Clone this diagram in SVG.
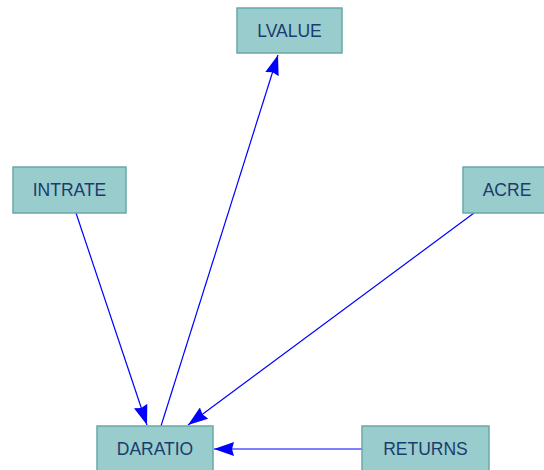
<svg xmlns="http://www.w3.org/2000/svg" width="544" height="470" viewBox="0 0 544 470">
<style>
.n rect{fill:#99cccc;stroke:#6aa8a8;stroke-width:1.5}
.n text{font-family:"Liberation Sans",Arial,sans-serif;font-size:17.5px;fill:#1a3c6e;text-anchor:middle;dominant-baseline:central}
.e line{stroke:#0000ff;stroke-width:1.2;marker-end:url(#a)}
</style>
<defs>
<marker id="a" viewBox="0 0 20 14" refX="20" refY="7" markerWidth="20" markerHeight="14" markerUnits="userSpaceOnUse" orient="auto">
<path d="M0,0 L20,7 L0,14 L2,7 Z" fill="#0000ff"/>
</marker>
</defs>
<rect width="544" height="470" fill="#ffffff"/>
<g class="e">
<line x1="76" y1="213" x2="147" y2="425"/>
<line x1="161" y1="426" x2="278" y2="55"/>
<line x1="474" y1="213" x2="188" y2="425"/>
<line x1="362" y1="449" x2="214" y2="449"/>
</g>
<g id="LVALUE" class="n"><rect x="237" y="8" width="105" height="45"/><text x="289.5" y="31">LVALUE</text></g>
<g id="INTRATE" class="n"><rect x="13" y="167" width="113" height="46"/><text x="69.5" y="190">INTRATE</text></g>
<g id="ACRE" class="n"><rect x="463" y="167" width="90" height="46"/><text x="507" y="190">ACRE</text></g>
<g id="DARATIO" class="n"><rect x="97" y="426" width="116" height="46"/><text x="155" y="449">DARATIO</text></g>
<g id="RETURNS" class="n"><rect x="362" y="426" width="127" height="46"/><text x="425.5" y="449">RETURNS</text></g>
</svg>
